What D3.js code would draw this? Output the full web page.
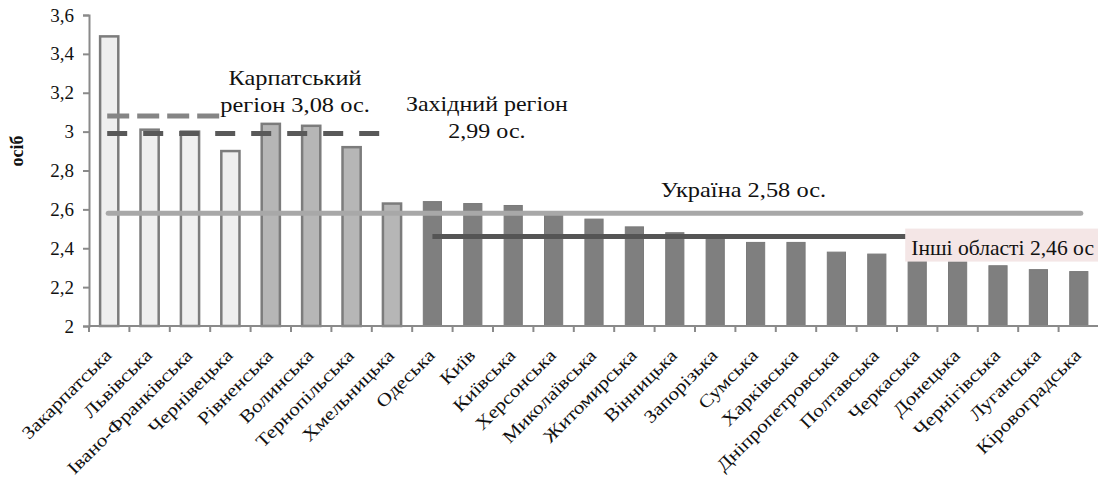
<!DOCTYPE html>
<html lang="uk">
<head>
<meta charset="UTF-8">
<title>осіб</title>
<script src="https://d3js.org/d3.v7.min.js"></script>
<style>
  body { margin: 0; background: #fff; }
</style>
</head>
<body>
<svg id="chart" width="1098" height="477"></svg>
<script>
// regions (oblasts) and average household size, persons
const regions = ["Закарпатська","Львівська","Івано-Франківська","Чернівецька","Рівненська","Волинська",
  "Тернопільська","Хмельницька","Одеська","Київ","Київська","Херсонська","Миколаївська","Житомирська",
  "Вінницька","Запорізька","Сумська","Харківська","Дніпропетровська","Полтавська","Черкаська","Донецька",
  "Чернігівська","Луганська","Кіровоградська"];
const values = [3.49,3.01,3.00,2.90,3.04,3.03,2.92,2.63,2.64,2.63,2.62,2.58,2.55,2.51,2.48,2.45,2.43,2.43,
  2.38,2.37,2.34,2.33,2.31,2.29,2.28];
// group: 0 = Carpathian, 1 = rest of Western, 2 = other oblasts
const groups = [0,0,0,0,1,1,1,1,2,2,2,2,2,2,2,2,2,2,2,2,2,2,2,2,2];
const yTicks = [2,2.2,2.4,2.6,2.8,3,3.2,3.4,3.6];

const avgKarpaty = 3.08, avgZakhid = 2.99, avgUkraine = 2.58, avgOther = 2.46;

const FONT = "'Liberation Serif', 'Times New Roman', 'DejaVu Serif', serif";
const svg = d3.select("#chart").style("font-family", FONT);
const x0 = 89, x1 = 1099, yTop = 15, yBot = 326;

const x = d3.scaleBand().domain(regions).range([x0, x1]).paddingInner(0.55).paddingOuter(0.275);
const y = d3.scaleLinear().domain([2, 3.6]).range([yBot, yTop]);
const step = x.step();
const cx = i => x(regions[i]) + x.bandwidth() / 2;

const fills = ["#efefef", "#b6b6b6", "#7f7f7f"];

// y axis
const yAxis = svg.append("g").attr("transform", `translate(${x0},0)`)
  .call(d3.axisLeft(y).tickValues(yTicks).tickSize(6).tickPadding(9)
    .tickFormat(d => String(d).replace(".", ",")));
yAxis.attr("font-family", null).attr("font-size", null);
yAxis.select(".domain").attr("stroke", "#8a8a8a").attr("stroke-width", 2);
yAxis.selectAll(".tick line").attr("stroke", "#8a8a8a").attr("stroke-width", 2);
yAxis.selectAll(".tick text").style("font-family", FONT).attr("font-size", 19).attr("fill", "#111");

svg.append("text")
  .attr("transform", `translate(23,${(y(2.8) + y(3)) / 2}) rotate(-90)`)
  .attr("text-anchor", "middle")
  .attr("font-size", 18).attr("font-weight", "bold").attr("fill", "#111")
  .text("осіб");

// bars
svg.append("g").selectAll("rect").data(values).join("rect")
  .attr("x", (d, i) => x(regions[i]))
  .attr("y", d => y(d))
  .attr("width", x.bandwidth())
  .attr("height", d => yBot - y(d))
  .attr("fill", (d, i) => fills[groups[i]])
  .attr("stroke", (d, i) => groups[i] === 2 ? "#7a7a7a" : "#7c7c7c")
  .attr("stroke-width", (d, i) => groups[i] === 2 ? 1 : 2.5);

// x axis
const xg = svg.append("g");
xg.append("line").attr("x1", x0).attr("x2", x1).attr("y1", yBot).attr("y2", yBot)
  .attr("stroke", "#8a8a8a").attr("stroke-width", 2);
xg.selectAll("line.tk").data(d3.range(regions.length)).join("line").attr("class", "tk")
  .attr("x1", i => x0 + i * step).attr("x2", i => x0 + i * step)
  .attr("y1", yBot).attr("y2", yBot + 6)
  .attr("stroke", "#8a8a8a").attr("stroke-width", 2);
xg.selectAll("text").data(regions).join("text")
  .attr("transform", (d, i) => `translate(${cx(i) - 1},${yBot + 26}) rotate(-45) scale(1.18,1)`)
  .attr("text-anchor", "end")
  .attr("dy", "0.35em")
  .attr("font-size", 18).attr("fill", "#111")
  .text(d => d);

// average lines
svg.append("line")
  .attr("x1", cx(0) - 2).attr("x2", cx(3) - 6)
  .attr("y1", y(avgKarpaty)).attr("y2", y(avgKarpaty))
  .attr("stroke", "#858585").attr("stroke-width", 5).attr("stroke-dasharray", "22 8");
svg.append("line")
  .attr("x1", cx(0) - 2).attr("x2", cx(6) + 0.7 * step)
  .attr("y1", y(avgZakhid)).attr("y2", y(avgZakhid))
  .attr("stroke", "#595959").attr("stroke-width", 5).attr("stroke-dasharray", "20 16");
svg.append("line")
  .attr("x1", cx(0) - 1).attr("x2", cx(24) + 2)
  .attr("y1", y(avgUkraine)).attr("y2", y(avgUkraine))
  .attr("stroke", "#a8a8a8").attr("stroke-width", 5).attr("stroke-linecap", "round");
svg.append("line")
  .attr("x1", cx(8)).attr("x2", cx(24))
  .attr("y1", y(avgOther)).attr("y2", y(avgOther))
  .attr("stroke", "#555").attr("stroke-width", 5);

// annotations (glyphs slightly widened, as in the source)
const note = (tx, ty, str, k) => svg.append("text")
  .attr("transform", `translate(${tx},${ty}) scale(${k},1)`)
  .attr("text-anchor", "middle").attr("font-size", 20).attr("fill", "#111").text(str);
note(cx(4) + 0.6 * step, y(avgKarpaty) - 31, "Карпатський", 1.22);
note(cx(4) + 0.6 * step, y(avgKarpaty) - 4, "регіон 3,08 ос.", 1.22);
note(cx(9) + 0.35 * step, y(avgZakhid) - 23, "Західний регіон", 1.2);
note(cx(9) + 0.35 * step, y(avgZakhid) + 4, "2,99 ос.", 1.2);
note(cx(15) + 0.7 * step, y(avgUkraine) - 16, "Україна 2,58 ос.", 1.22);

const boxX = cx(20) - 12;
svg.append("rect").attr("x", boxX).attr("y", y(avgOther) - 8)
  .attr("width", 1098 - boxX).attr("height", 33).attr("fill", "#f4e6e6");
svg.append("text").attr("transform", `translate(${boxX + 6},${y(avgOther) + 18}) scale(1.08,1)`)
  .attr("font-size", 20).attr("fill", "#111").text("Інші області 2,46 ос");
</script>
</body>
</html>
